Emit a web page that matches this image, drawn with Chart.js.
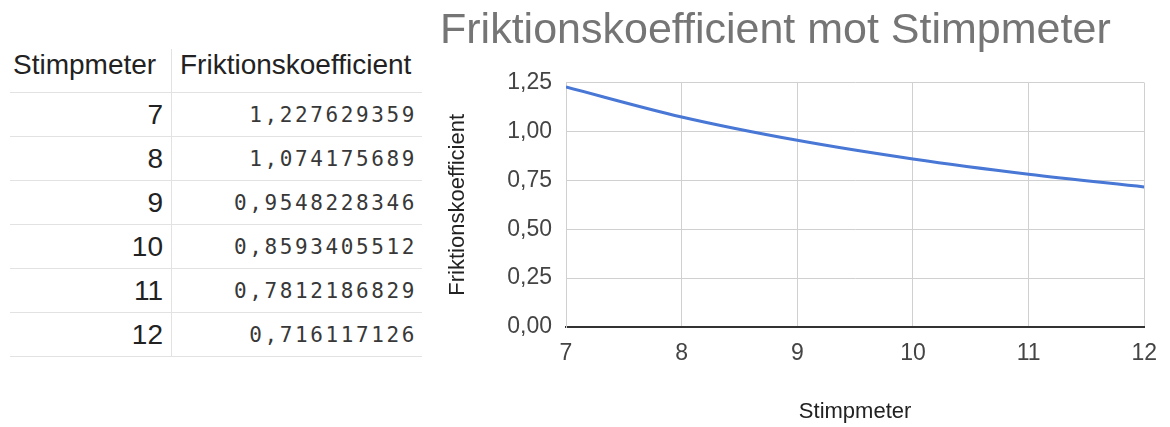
<!DOCTYPE html>
<html>
<head>
<meta charset="utf-8">
<script src="https://cdn.jsdelivr.net/npm/chart.js@4"></script>
<style>
  html, body { margin: 0; padding: 0; background: #fff; }
  body { width: 1170px; height: 427px; position: relative; overflow: hidden; }
  #sheet { position: absolute; left: 10px; top: 49px; border-collapse: collapse; }
  #sheet td, #sheet th { height: 43px; padding: 0; border-bottom: 1px solid #e2e2e2; }
  #sheet th { font: 28px/28px "Liberation Sans", Arial, sans-serif; color: #222; font-weight: normal; text-align: left; vertical-align: top; padding-top: 2px; height: 41px; }
  #sheet th.c1 { padding-left: 3px; }
  #sheet th.c2 { padding-left: 8px; }
  #sheet .c1 { width: 158px; border-right: 1px solid #e2e2e2; }
  #sheet .c2 { width: 242px; }
  #sheet td.c1 { font: 28px "Liberation Sans", Arial, sans-serif; color: #222; text-align: right; padding-right: 8px; width: 150px; }
  #sheet td.c2 { font: 21px "DejaVu Sans Mono", monospace; letter-spacing: 2.6px; color: #383838; text-align: right; padding-right: 5px; width: 237px; }
  #chartBox { position: absolute; left: 430px; top: 0; width: 740px; height: 427px; }
</style>
</head>
<body>
<table id="sheet"></table>
<div id="chartBox"><canvas id="c"></canvas></div>
<script>
// Stimpmeter readings and the friction coefficient computed for each
const stimpmeter = [7, 8, 9, 10, 11, 12];
const friktion = [1.227629359, 1.074175689, 0.9548228346, 0.8593405512, 0.7812186829, 0.716117126];
const yTicks = [0, 0.25, 0.5, 0.75, 1.0, 1.25];

const colHeaders = ['Stimpmeter', 'Friktionskoefficient'];
const titleText = 'Friktionskoefficient mot Stimpmeter';

const comma = v => String(v).replace('.', ',');

// spreadsheet table
const table = document.getElementById('sheet');
let html = '<tr><th class="c1">' + colHeaders[0] + '</th><th class="c2">' + colHeaders[1] + '</th></tr>';
stimpmeter.forEach((s, i) => {
  html += '<tr><td class="c1">' + s + '</td><td class="c2">' + comma(friktion[i]) + '</td></tr>';
});
table.innerHTML = html;

// chart
const font = 'Liberation Sans, Arial, sans-serif';
new Chart(document.getElementById('c'), {
  type: 'line',
  data: {
    datasets: [{
      data: stimpmeter.map((s, i) => ({ x: s, y: friktion[i] })),
      borderColor: '#4877d6',
      borderWidth: 3,
      pointRadius: 0,
      cubicInterpolationMode: 'monotone',
      fill: false
    }]
  },
  options: {
    responsive: true,
    maintainAspectRatio: false,
    animation: false,
    layout: { padding: { left: 10, right: 25, top: 0, bottom: 0 } },
    plugins: {
      legend: { display: false },
      tooltip: { enabled: false },
      title: {
        display: true,
        text: titleText,
        align: 'start',
        color: '#757575',
        font: { family: font, size: 43, weight: 'normal' },
        padding: { top: 5, bottom: 26 }
      }
    },
    scales: {
      x: {
        type: 'linear',
        min: 7,
        max: 12,
        afterFit: s => { s.height = 100; },
        ticks: {
          stepSize: 1,
          padding: 13,
          color: '#444',
          font: { family: font, size: 23 }
        },
        grid: { color: '#d0d0d0', drawTicks: false },
        border: { color: '#333', width: 2 },
        title: {
          display: true,
          text: colHeaders[0],
          color: '#222',
          font: { family: font, size: 22 },
          padding: { top: 0, bottom: 2 }
        }
      },
      y: {
        min: 0,
        max: 1.25,
        afterFit: s => { s.width = 126; },
        afterBuildTicks: s => { s.ticks = yTicks.map(v => ({ value: v })); },
        ticks: {
          padding: 14,
          color: '#444',
          font: { family: font, size: 23 },
          callback: v => v.toFixed(2).replace('.', ',')
        },
        grid: { color: '#d0d0d0', drawTicks: false },
        border: { color: '#d0d0d0' },
        title: {
          display: true,
          text: colHeaders[1],
          color: '#222',
          font: { family: font, size: 22 },
          padding: { top: 5, bottom: 0 }
        }
      }
    }
  }
});
</script>
</body>
</html>
